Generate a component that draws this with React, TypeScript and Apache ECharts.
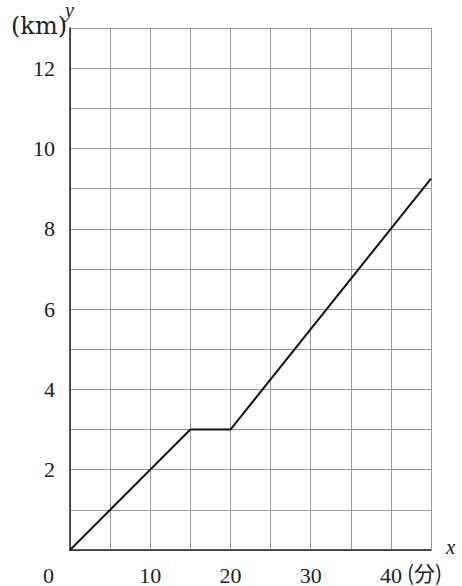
import React, { useEffect, useRef } from 'react';
import * as echarts from 'echarts';

// 時間 (分) と距離 (km)
const minutes = [0, 15, 20, 45];
const distances = [0, 3, 3, 9.25];
const xTickLabels = [10, 20, 30, 40];
const yTickLabels = [2, 4, 6, 8, 10, 12];

const SERIF = 'Liberation Serif';
const CJK = 'Noto Sans CJK JP';
const GRAY = '#999999';

const App = () => {
    const chartRef = useRef<HTMLDivElement>(null);

    useEffect(() => {
        document.body.style.margin = '0';
        if (!chartRef.current) return;
        const myChart = echarts.init(chartRef.current, null, { renderer: 'svg' });

        const option = {
            animation: false,
            backgroundColor: '#ffffff',
            grid: { left: 70, top: 28, right: 31, bottom: 36 },
            xAxis: {
                type: 'value',
                min: 0,
                max: 45,
                interval: 5,
                axisLine: { show: true, lineStyle: { color: '#222', width: 1.5 } },
                axisTick: { show: false },
                splitLine: { show: true, lineStyle: { color: GRAY, width: 1 } },
                axisLabel: {
                    margin: 14,
                    color: '#222',
                    fontSize: 22,
                    fontFamily: SERIF,
                    formatter: (v: number) => (xTickLabels.includes(v) ? String(v) : ''),
                },
            },
            yAxis: {
                type: 'value',
                min: 0,
                max: 13,
                interval: 1,
                axisLine: { show: true, lineStyle: { color: '#222', width: 1.5 } },
                axisTick: { show: false },
                splitLine: { show: true, lineStyle: { color: GRAY, width: 1 } },
                axisLabel: {
                    margin: 15,
                    color: '#222',
                    fontSize: 22,
                    fontFamily: SERIF,
                    formatter: (v: number) => (yTickLabels.includes(v) ? String(v) : ''),
                },
            },
            graphic: [
                { type: 'text', left: 43, top: 564, style: { text: '0', fontSize: 22, fontFamily: SERIF, fill: '#222' } },
                { type: 'text', left: 407, top: 561, style: { text: '(分)', fontSize: 21, fontFamily: CJK, fill: '#222' } },
                { type: 'text', left: 446, top: 536, style: { text: 'x', fontSize: 21, fontStyle: 'italic', fontFamily: SERIF, fill: '#222' } },
                { type: 'text', left: 65, top: 0, style: { text: 'y', fontSize: 20, fontStyle: 'italic', fontFamily: SERIF, fill: '#222' } },
                { type: 'text', left: 11, top: 14, style: { text: '(km)', fontSize: 24, fontFamily: 'DejaVu Serif', fill: '#222' } },
            ],
            series: [
                {
                    type: 'line',
                    data: minutes.map((m, i) => [m, distances[i]]),
                    symbol: 'none',
                    lineStyle: { color: '#111', width: 2 },
                },
            ],
        };

        myChart.setOption(option);
        return () => {
            myChart.dispose();
        };
    }, []);

    return <div ref={chartRef} style={{ width: 462, height: 586 }}></div>;
};

export default App;
